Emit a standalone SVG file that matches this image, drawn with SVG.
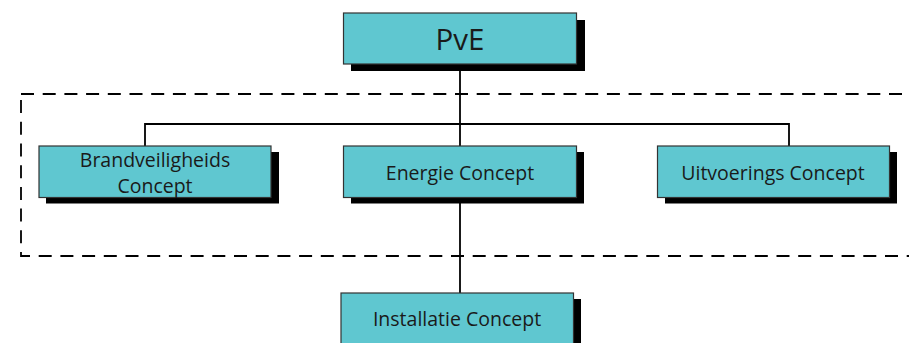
<svg xmlns="http://www.w3.org/2000/svg" width="909" height="343" viewBox="0 0 909 343">
<style>
.shadow{fill:#000}
.box{fill:#5fc7d0;stroke:#333;stroke-width:1.2}
.t{font-family:"Open Sans","Noto Sans",sans-serif;font-size:19.5px;fill:#1a1a1a;text-anchor:middle}
.big{font-size:29.5px}
.conn{fill:none;stroke:#000;stroke-width:1.8}
.group{fill:none;stroke:#000;stroke-width:1.8;stroke-dasharray:13 8.7}
</style>
<rect width="909" height="343" fill="#fff"/>
<rect id="boundary" class="group" x="21" y="94" width="900" height="162"/>
<g id="connectors">
<line class="conn" x1="460" y1="64" x2="460" y2="293"/>
<polyline class="conn" points="145,146 145,124 789,124 789,146"/>
</g>
<g id="pve">
<rect class="shadow" x="351" y="20" width="234" height="51"/>
<rect class="box" x="343.5" y="13" width="233" height="51"/>
<text class="t big" x="460" y="50">PvE</text>
</g>
<g id="brandveiligheids">
<rect class="shadow" x="46" y="152" width="233" height="51.5"/>
<rect class="box" x="39" y="146" width="232" height="51.5"/>
<text class="t" x="155" y="167">Brandveiligheids</text>
<text class="t" x="155" y="192.5">Concept</text>
</g>
<g id="energie">
<rect class="shadow" x="351" y="152" width="233" height="51.5"/>
<rect class="box" x="343.5" y="146" width="233" height="51.5"/>
<text class="t" x="460" y="180">Energie Concept</text>
</g>
<g id="uitvoerings">
<rect class="shadow" x="665" y="152" width="232" height="51.5"/>
<rect class="box" x="657.5" y="146" width="232" height="51.5"/>
<text class="t" x="773" y="179.5">Uitvoerings Concept</text>
</g>
<g id="installatie">
<rect class="shadow" x="348" y="299" width="233" height="60"/>
<rect class="box" x="341" y="293" width="232.5" height="60"/>
<text class="t" x="457" y="326">Installatie Concept</text>
</g>
</svg>
